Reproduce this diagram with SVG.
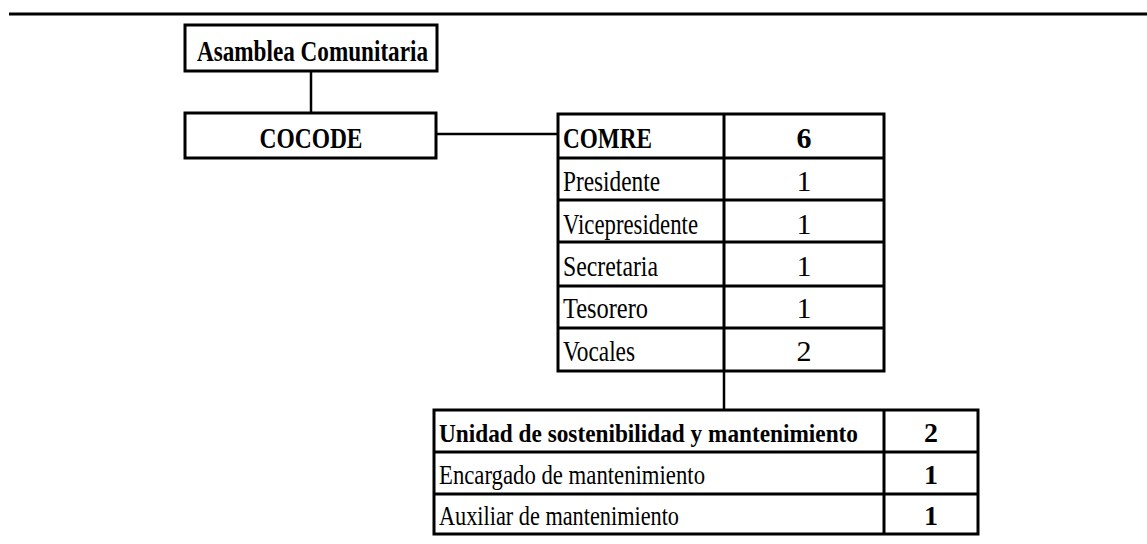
<svg xmlns="http://www.w3.org/2000/svg" width="1147" height="544" viewBox="0 0 1147 544">
<style>
.box{fill:#fff;stroke:#000;stroke-width:3}
.ln{stroke:#000;stroke-width:3;fill:none}
.con{stroke:#000;stroke-width:2.5;fill:none}
.t{font-family:"Liberation Serif","Times New Roman",serif;fill:#000;font-size:30px}
.s{font-size:28px}
.u{font-size:26px}
.b{font-weight:bold}
.c{text-anchor:middle}
</style>
<rect width="1147" height="544" fill="#fff"/>
<line x1="9" y1="14" x2="1147" y2="14" stroke="#000" stroke-width="3"/>
<g id="connectors">
<line class="con" x1="311" y1="71" x2="311" y2="113"/>
<line class="con" x1="436" y1="134" x2="558" y2="134"/>
<line class="con" x1="724" y1="371" x2="724" y2="410"/>
</g>
<g id="asamblea">
<rect class="box" x="185" y="25" width="252" height="46"/>
<text class="t b" x="197" y="61" textLength="231" lengthAdjust="spacingAndGlyphs">Asamblea Comunitaria</text>
</g>
<g id="cocode">
<rect class="box" x="185" y="113" width="251" height="45"/>
<text class="t b c" x="311" y="148" textLength="103" lengthAdjust="spacingAndGlyphs">COCODE</text>
</g>
<g id="comre">
<rect class="box" x="558" y="114" width="326" height="257"/>
<line class="ln" x1="724" y1="114" x2="724" y2="371"/>
<line class="ln" x1="558" y1="158" x2="884" y2="158"/>
<line class="ln" x1="558" y1="200" x2="884" y2="200"/>
<line class="ln" x1="558" y1="242" x2="884" y2="242"/>
<line class="ln" x1="558" y1="286" x2="884" y2="286"/>
<line class="ln" x1="558" y1="328" x2="884" y2="328"/>
<text class="t b" x="563" y="148" textLength="89" lengthAdjust="spacingAndGlyphs">COMRE</text>
<text class="t b c" x="804" y="148">6</text>
<text class="t" x="563" y="191" textLength="97" lengthAdjust="spacingAndGlyphs">Presidente</text>
<text class="t c" x="804" y="191">1</text>
<text class="t" x="563" y="234" textLength="135" lengthAdjust="spacingAndGlyphs">Vicepresidente</text>
<text class="t c" x="804" y="234">1</text>
<text class="t" x="563" y="276" textLength="95" lengthAdjust="spacingAndGlyphs">Secretaria</text>
<text class="t c" x="804" y="276">1</text>
<text class="t" x="563" y="318" textLength="85" lengthAdjust="spacingAndGlyphs">Tesorero</text>
<text class="t c" x="804" y="318">1</text>
<text class="t" x="563" y="361" textLength="72" lengthAdjust="spacingAndGlyphs">Vocales</text>
<text class="t c" x="804" y="361">2</text>
</g>
<g id="unidad">
<rect class="box" x="434" y="410" width="544" height="124"/>
<line class="ln" x1="884" y1="410" x2="884" y2="534"/>
<line class="ln" x1="434" y1="452" x2="978" y2="452"/>
<line class="ln" x1="434" y1="494" x2="978" y2="494"/>
<text class="t u b" x="439" y="442" textLength="419" lengthAdjust="spacingAndGlyphs">Unidad de sostenibilidad y mantenimiento</text>
<text class="t s b c" x="931" y="442">2</text>
<text class="t s" x="439" y="484" textLength="266" lengthAdjust="spacingAndGlyphs">Encargado de mantenimiento</text>
<text class="t s b c" x="931" y="484">1</text>
<text class="t s" x="439" y="525" textLength="240" lengthAdjust="spacingAndGlyphs">Auxiliar de mantenimiento</text>
<text class="t s b c" x="931" y="525">1</text>
</g>
</svg>
